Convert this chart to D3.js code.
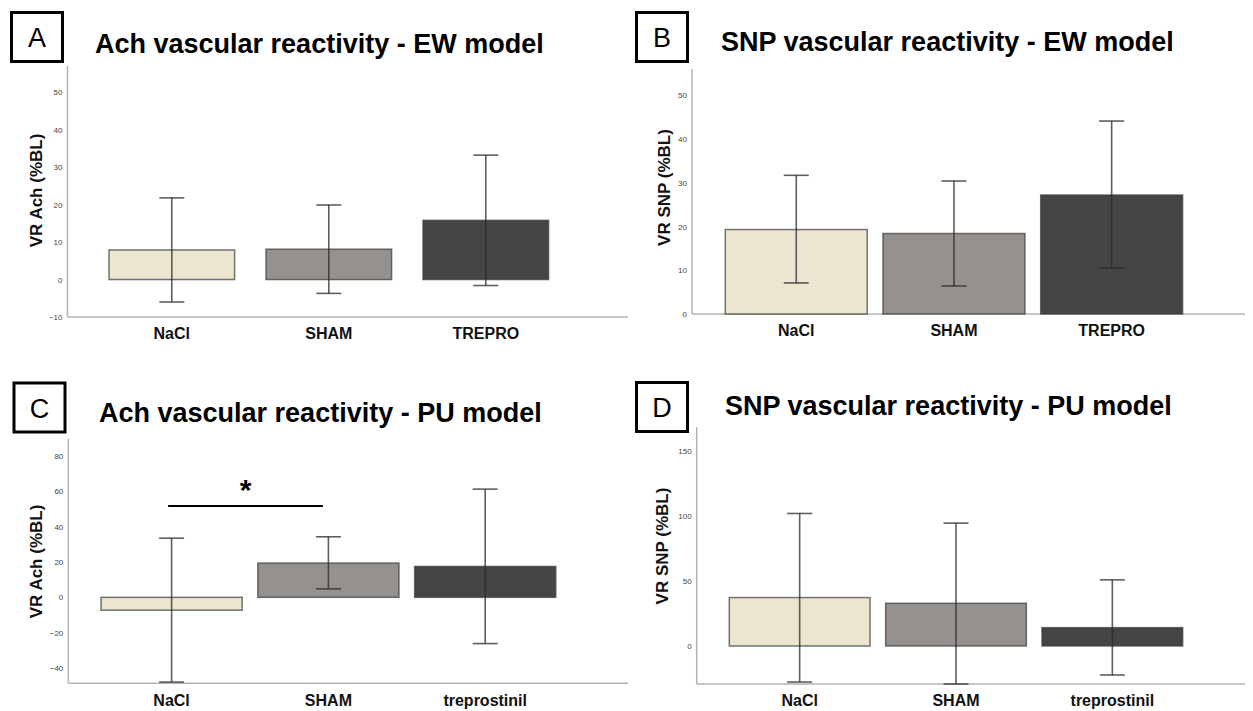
<!DOCTYPE html>
<html>
<head>
<meta charset="utf-8">
<script src="https://cdn.jsdelivr.net/npm/d3@7"></script>
<style>
  html, body { margin: 0; padding: 0; background: #ffffff; }
  svg { display: block; font-family: "Liberation Sans", Arial, sans-serif; }
</style>
</head>
<body>
<svg id="chart" width="1253" height="711"></svg>
<script>
// ---- data ----
const categoriesEW = ["NaCl", "SHAM", "TREPRO"];
const categoriesPU = ["NaCl", "SHAM", "treprostinil"];

// Ach vascular reactivity, EW model (mean, error bar low/high)
const achEWMean = [7.9, 8.1, 15.8];
const achEWLow  = [-6.0, -3.7, -1.6];
const achEWHigh = [21.8, 19.9, 33.2];

// SNP vascular reactivity, EW model
const snpEWMean = [19.3, 18.4, 27.2];
const snpEWLow  = [7.1, 6.4, 10.5];
const snpEWHigh = [31.7, 30.4, 44.1];

// Ach vascular reactivity, PU model
const achPUMean = [-7.3, 19.4, 17.5];
const achPULow  = [-48.0, 4.8, -26.2];
const achPUHigh = [33.5, 34.3, 61.3];

// SNP vascular reactivity, PU model
const snpPUMean = [37.2, 32.8, 14.1];
const snpPULow  = [-27.7, -29.2, -22.3];
const snpPUHigh = [101.8, 94.4, 50.8];

// tick labels
const achEWTicks = [-10, 0, 10, 20, 30, 40, 50];
const snpEWTicks = [0, 10, 20, 30, 40, 50];
const achPUTicks = [-40, -20, 0, 20, 40, 60, 80];
const snpPUTicks = [0, 50, 100, 150];

// significance bracket in panel C
const sigPair = ["NaCl", "SHAM"];
const sigLevel = 51.7;
const sigMark = "*";

const groupColors = ["#ece6d1", "#95918f", "#454547"];

// ---- layout ----
const panels = [
  { letter: "A", title: "Ach vascular reactivity - EW model", yLabel: "VR Ach (%BL)",
    cats: categoriesEW, mean: achEWMean, low: achEWLow, high: achEWHigh, ticks: achEWTicks,
    yDomain: [-10, 57], yRange: [317, 66], axisX: 67.5, axisEnd: 628,
    xRange: [93.3, 564.3], padInner: 0.2, padOuter: 0.1,
    box: [11.5, 12.5], titleX: 95, titleY: 53, yLabelX: 41.5, yLabelY: 190.5, catY: 339 },
  { letter: "B", title: "SNP vascular reactivity - EW model", yLabel: "VR SNP (%BL)",
    cats: categoriesEW, mean: snpEWMean, low: snpEWLow, high: snpEWHigh, ticks: snpEWTicks,
    yDomain: [0, 56], yRange: [314, 69], axisX: 692, axisEnd: 1245,
    xRange: [717.4, 1190.5], padInner: 0.1, padOuter: 0.05,
    box: [636.5, 12.5], titleX: 721, titleY: 51, yLabelX: 670, yLabelY: 187.5, catY: 336 },
  { letter: "C", title: "Ach vascular reactivity - PU model", yLabel: "VR Ach (%BL)",
    cats: categoriesPU, mean: achPUMean, low: achPULow, high: achPUHigh, ticks: achPUTicks,
    yDomain: [-48.7, 89.7], yRange: [683.3, 439], axisX: 68.3, axisEnd: 628,
    xRange: [93.2, 563.6], padInner: 0.1, padOuter: 0.05,
    box: [14, 383], titleX: 99, titleY: 421.5, yLabelX: 41.5, yLabelY: 561.5, catY: 706,
    sig: true },
  { letter: "D", title: "SNP vascular reactivity - PU model", yLabel: "VR SNP (%BL)",
    cats: categoriesPU, mean: snpPUMean, low: snpPULow, high: snpPUHigh, ticks: snpPUTicks,
    yDomain: [-29.2, 168], yRange: [684, 427.3], axisX: 696.7, axisEnd: 1245,
    xRange: [721.5, 1190.5], padInner: 0.1, padOuter: 0.05,
    box: [636.5, 382.5], titleX: 725, titleY: 415, yLabelX: 668, yLabelY: 546, catY: 706 }
];

const svg = d3.select("#chart");

panels.forEach(p => {
  const g = svg.append("g").attr("class", "panel-" + p.letter);

  const y = d3.scaleLinear().domain(p.yDomain).range(p.yRange);
  const x = d3.scaleBand().domain(p.cats).range(p.xRange)
    .paddingInner(p.padInner).paddingOuter(p.padOuter);

  // panel letter box
  g.append("rect")
    .attr("x", p.box[0]).attr("y", p.box[1])
    .attr("width", 51).attr("height", 49)
    .attr("fill", "none").attr("stroke", "#000").attr("stroke-width", 3);
  g.append("text")
    .attr("x", p.box[0] + 25.5).attr("y", p.box[1] + 34.5)
    .attr("text-anchor", "middle")
    .attr("font-size", 27).attr("fill", "#000")
    .text(p.letter);

  // title
  g.append("text")
    .attr("x", p.titleX).attr("y", p.titleY)
    .attr("font-size", 27).attr("font-weight", "bold").attr("fill", "#000")
    .text(p.title);

  // y axis: line and tick labels only
  const yAxis = d3.axisLeft(y).tickValues(p.ticks).tickSize(0).tickPadding(5)
    .tickFormat(d3.format("d"));
  const ya = g.append("g").attr("transform", `translate(${p.axisX},0)`).call(yAxis);
  ya.select(".domain").remove();
  ya.selectAll("text").attr("font-size", 8).attr("fill", "#444")
    .attr("font-family", "'Liberation Sans', Arial, sans-serif");
  g.append("line")
    .attr("x1", p.axisX).attr("x2", p.axisX)
    .attr("y1", p.yRange[1]).attr("y2", p.yRange[0])
    .attr("stroke", "#b3b3b3").attr("stroke-width", 1.5);

  // x axis: baseline and category labels
  g.append("line")
    .attr("x1", p.axisX).attr("x2", p.axisEnd)
    .attr("y1", p.yRange[0]).attr("y2", p.yRange[0])
    .attr("stroke", "#b3b3b3").attr("stroke-width", 1.5);
  g.selectAll("text.cat").data(p.cats).enter().append("text")
    .attr("class", "cat")
    .attr("x", d => x(d) + x.bandwidth() / 2)
    .attr("y", p.catY)
    .attr("text-anchor", "middle")
    .attr("font-size", 16).attr("font-weight", "bold").attr("fill", "#111")
    .text(d => d);

  // y axis title
  g.append("text")
    .attr("transform", `translate(${p.yLabelX},${p.yLabelY}) rotate(-90)`)
    .attr("text-anchor", "middle")
    .attr("font-size", 17).attr("font-weight", "bold").attr("fill", "#111")
    .text(p.yLabel);

  // bars
  const rows = p.cats.map((c, i) => ({ cat: c, i, mean: p.mean[i], low: p.low[i], high: p.high[i] }));
  g.selectAll("rect.bar").data(rows).enter().append("rect")
    .attr("class", "bar")
    .attr("x", d => x(d.cat))
    .attr("width", x.bandwidth())
    .attr("y", d => y(Math.max(0, d.mean)))
    .attr("height", d => Math.abs(y(d.mean) - y(0)))
    .attr("fill", d => groupColors[d.i])
    .attr("stroke", "#3a3a3a").attr("stroke-opacity", 0.7).attr("stroke-width", 1.5);

  // error bars
  const cap = 12.5;
  const eb = g.selectAll("g.err").data(rows).enter().append("g")
    .attr("class", "err")
    .attr("stroke", "#2a2a2a").attr("stroke-opacity", 0.75).attr("stroke-width", 1.6);
  eb.append("line")
    .attr("x1", d => x(d.cat) + x.bandwidth() / 2).attr("x2", d => x(d.cat) + x.bandwidth() / 2)
    .attr("y1", d => y(d.high)).attr("y2", d => y(d.low));
  eb.append("line")
    .attr("x1", d => x(d.cat) + x.bandwidth() / 2 - cap).attr("x2", d => x(d.cat) + x.bandwidth() / 2 + cap)
    .attr("y1", d => y(d.high)).attr("y2", d => y(d.high));
  eb.append("line")
    .attr("x1", d => x(d.cat) + x.bandwidth() / 2 - cap).attr("x2", d => x(d.cat) + x.bandwidth() / 2 + cap)
    .attr("y1", d => y(d.low)).attr("y2", d => y(d.low));

  // significance bracket
  if (p.sig) {
    const x1 = x(sigPair[0]) + x.bandwidth() / 2 - 3.5;
    const x2 = x(sigPair[1]) + x.bandwidth() / 2 - 5.5;
    g.append("line")
      .attr("x1", x1).attr("x2", x2)
      .attr("y1", y(sigLevel)).attr("y2", y(sigLevel))
      .attr("stroke", "#000").attr("stroke-width", 2);
    g.append("text")
      .attr("x", (x1 + x2) / 2).attr("y", y(sigLevel) - 6)
      .attr("text-anchor", "middle")
      .attr("font-size", 30).attr("font-weight", "bold").attr("fill", "#000")
      .text(sigMark);
  }
});
</script>
</body>
</html>
